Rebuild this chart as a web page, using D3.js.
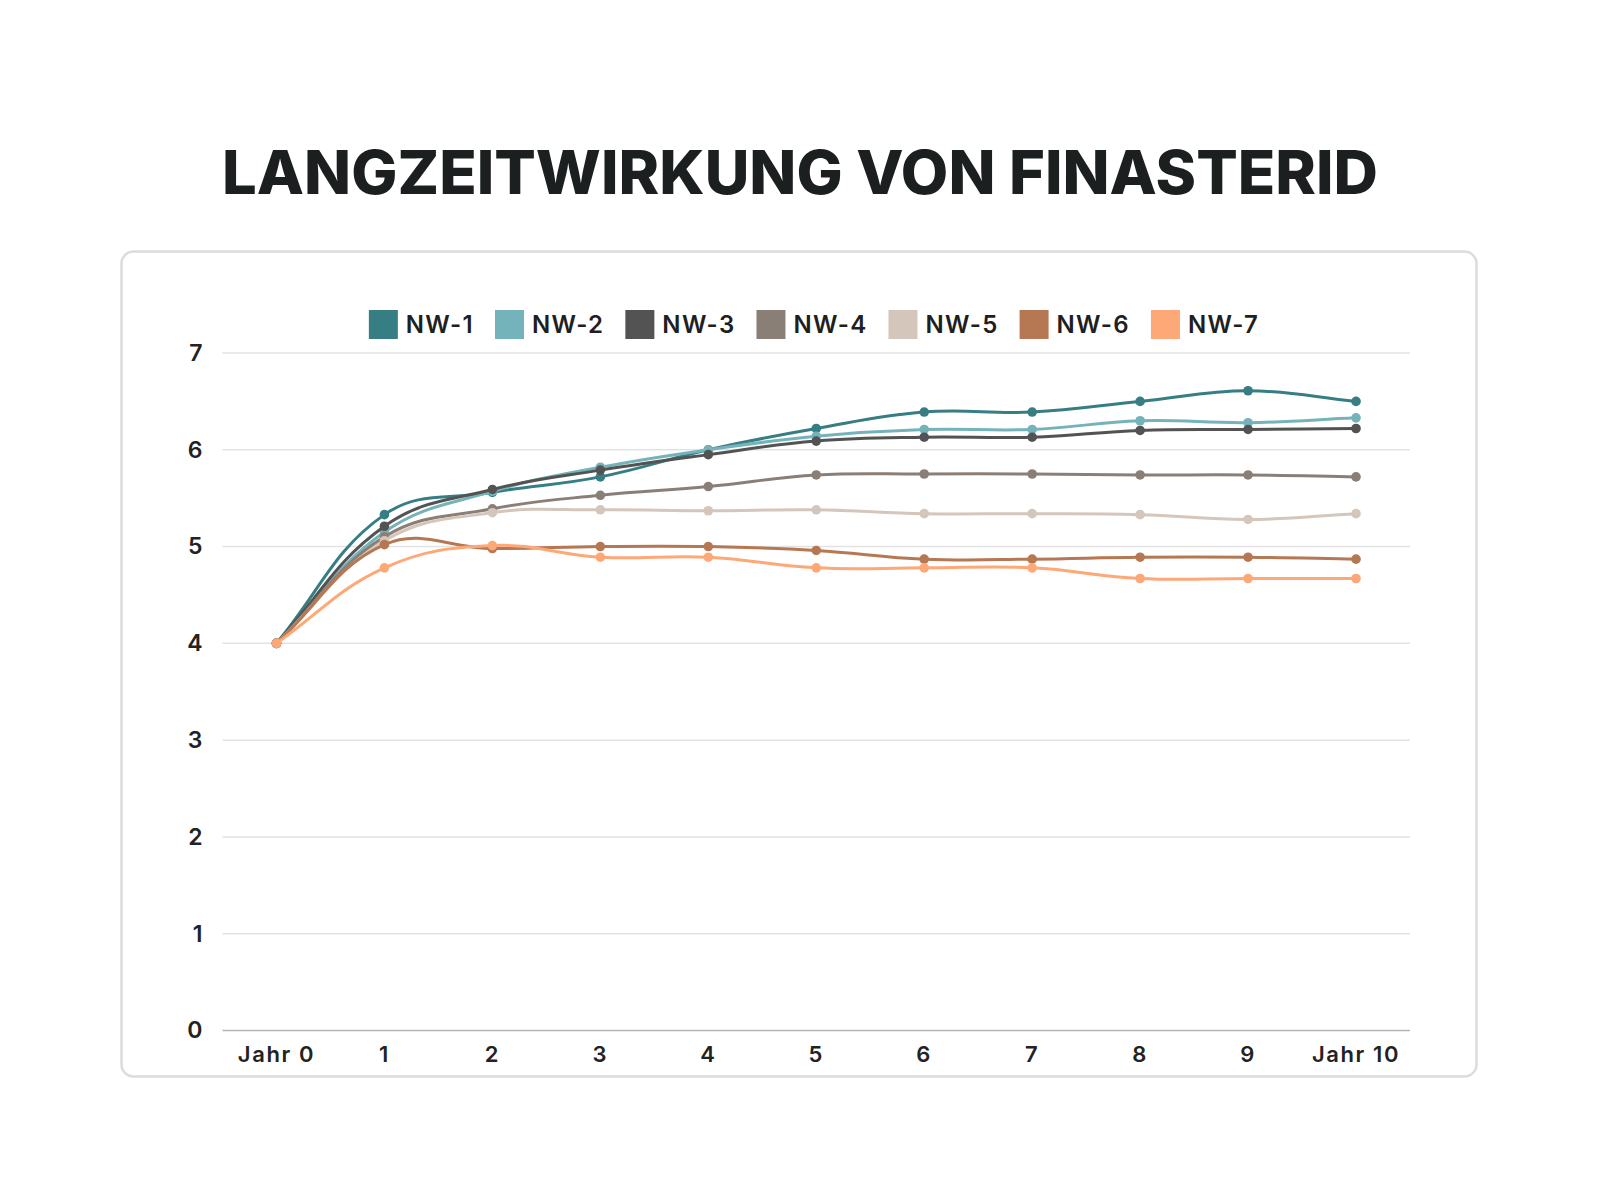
<!DOCTYPE html>
<html>
<head>
<meta charset="utf-8">
<script src="https://cdn.jsdelivr.net/npm/d3@7"></script>
<style>
  html, body { margin: 0; padding: 0; background: #ffffff; }
  svg { display: block; }
  text { font-family: Inter, "Open Sans", "DejaVu Sans", sans-serif; }
</style>
</head>
<body>
<svg id="chart" width="1600" height="1200"></svg>
<script>
// ---------- DATA ----------
const categories = ["Jahr 0", "1", "2", "3", "4", "5", "6", "7", "8", "9", "Jahr 10"];
const seriesNames = ["NW-1", "NW-2", "NW-3", "NW-4", "NW-5", "NW-6", "NW-7"];
const nw1 = [4, 5.33, 5.56, 5.72, 6.00, 6.22, 6.39, 6.39, 6.50, 6.61, 6.50];
const nw2 = [4, 5.15, 5.57, 5.82, 6.00, 6.14, 6.21, 6.21, 6.30, 6.28, 6.33];
const nw3 = [4, 5.21, 5.59, 5.79, 5.95, 6.09, 6.13, 6.13, 6.20, 6.21, 6.22];
const nw4 = [4, 5.10, 5.39, 5.53, 5.62, 5.74, 5.75, 5.75, 5.74, 5.74, 5.72];
const nw5 = [4, 5.06, 5.35, 5.38, 5.37, 5.38, 5.34, 5.34, 5.33, 5.28, 5.34];
const nw6 = [4, 5.02, 4.98, 5.00, 5.00, 4.96, 4.87, 4.87, 4.89, 4.89, 4.87];
const nw7 = [4, 4.78, 5.01, 4.89, 4.89, 4.78, 4.78, 4.78, 4.67, 4.67, 4.67];
const seriesValues = [nw1, nw2, nw3, nw4, nw5, nw6, nw7];
const seriesColors = ["#367e84", "#75b3ba", "#535353", "#8a7f77", "#d4c6ba", "#b67853", "#fea877"];
const yTicks = [0, 1, 2, 3, 4, 5, 6, 7];
const titleText = "LANGZEITWIRKUNG VON FINASTERID";

// ---------- LAYOUT ----------
const svg = d3.select("#chart");
const plot = { left: 222.5, right: 1410, top: 353, bottom: 1030.5 };

// card
svg.append("rect")
  .attr("x", 121.5).attr("y", 251.5)
  .attr("width", 1355).attr("height", 825)
  .attr("rx", 12).attr("ry", 12)
  .attr("fill", "#ffffff")
  .attr("stroke", "#dcdcdc")
  .attr("stroke-width", 2.5);

// title
svg.append("text")
  .attr("x", 800).attr("y", 194)
  .attr("text-anchor", "middle")
  .attr("font-size", 60)
  .attr("font-weight", 800)
  .attr("fill", "#1c1f1f")
  .attr("textLength", 1156)
  .attr("lengthAdjust", "spacingAndGlyphs")
  .text(titleText);

// scales
const x = d3.scaleBand().domain(categories).range([plot.left, plot.right]).padding(0);
const xc = d => x(d) + x.bandwidth() / 2;
const y = d3.scaleLinear().domain([0, 7]).range([plot.bottom, plot.top]);

// gridlines
svg.append("g").selectAll("line")
  .data(yTicks.filter(t => t !== 0))
  .join("line")
  .attr("x1", plot.left).attr("x2", plot.right)
  .attr("y1", d => y(d)).attr("y2", d => y(d))
  .attr("stroke", "#e3e3e3").attr("stroke-width", 1.5);

// x axis baseline
svg.append("line")
  .attr("x1", plot.left).attr("x2", plot.right)
  .attr("y1", y(0)).attr("y2", y(0))
  .attr("stroke", "#b5b5b5").attr("stroke-width", 1.5);

// y axis
const yAxis = svg.append("g")
  .attr("transform", `translate(${plot.left},0)`)
  .call(d3.axisLeft(y).tickValues(yTicks).tickSize(0).tickPadding(20).tickFormat(d3.format("d")));
yAxis.select(".domain").remove();
yAxis.selectAll("text")
  .attr("font-size", 23).attr("font-weight", 600).attr("fill", "#222222")
  .style("font-family", "Inter, 'Open Sans', sans-serif");

// x axis
const xAxis = svg.append("g")
  .attr("transform", `translate(0,${y(0)})`)
  .call(d3.axisBottom(x).tickSize(0).tickPadding(16));
xAxis.select(".domain").remove();
xAxis.selectAll("text")
  .attr("font-size", 22).attr("font-weight", 600).attr("fill", "#222222")
  .attr("letter-spacing", 1.6)
  .style("font-family", "Inter, 'Open Sans', sans-serif");

// Chart.js-like bezier spline curve (tension 0.4)
function SplineCurve(context) { this._context = context; }
SplineCurve.prototype = {
  areaStart() {}, areaEnd() {},
  lineStart() { this._pts = []; },
  point(px, py) { this._pts.push([+px, +py]); },
  lineEnd() {
    const p = this._pts, n = p.length, t = 0.4, ctx = this._context;
    if (!n) return;
    const cps = p.map((c, i) => {
      const prev = p[i - 1] || c, next = p[i + 1] || c;
      const d01 = Math.hypot(c[0] - prev[0], c[1] - prev[1]);
      const d12 = Math.hypot(next[0] - c[0], next[1] - c[1]);
      let s01 = d01 / (d01 + d12), s12 = d12 / (d01 + d12);
      if (isNaN(s01)) s01 = 0;
      if (isNaN(s12)) s12 = 0;
      const fa = t * s01, fb = t * s12;
      return {
        pv: [c[0] - fa * (next[0] - prev[0]), c[1] - fa * (next[1] - prev[1])],
        nx: [c[0] + fb * (next[0] - prev[0]), c[1] + fb * (next[1] - prev[1])]
      };
    });
    ctx.moveTo(p[0][0], p[0][1]);
    for (let i = 1; i < n; i++) {
      ctx.bezierCurveTo(cps[i - 1].nx[0], cps[i - 1].nx[1], cps[i].pv[0], cps[i].pv[1], p[i][0], p[i][1]);
    }
  }
};
const curveSpline = ctx => new SplineCurve(ctx);

const line = d3.line()
  .x((d, i) => xc(categories[i]))
  .y(d => y(d))
  .curve(curveSpline);

const seriesG = svg.append("g");
seriesValues.forEach((vals, si) => {
  const g = seriesG.append("g");
  g.append("path")
    .datum(vals)
    .attr("d", line)
    .attr("fill", "none")
    .attr("stroke", seriesColors[si])
    .attr("stroke-width", 3)
    .attr("stroke-linejoin", "round")
    .attr("stroke-linecap", "round");
  g.selectAll("circle")
    .data(vals)
    .join("circle")
    .attr("cx", (d, i) => xc(categories[i]))
    .attr("cy", d => y(d))
    .attr("r", 4.8)
    .attr("fill", seriesColors[si]);
});

// legend
const legend = svg.append("g");
const items = seriesNames.map((name, i) => {
  const g = legend.append("g");
  g.append("rect").attr("x", 0).attr("y", 0).attr("width", 29).attr("height", 29)
    .attr("fill", seriesColors[i]);
  const t = g.append("text").attr("x", 37).attr("y", 23)
    .attr("font-size", 24).attr("font-weight", 600).attr("fill", "#1f1f1f")
    .attr("letter-spacing", 1.3)
    .text(name);
  return { g, w: 37 + t.node().getComputedTextLength() };
});
const gap = 21;
const total = d3.sum(items, d => d.w) + gap * (items.length - 1);
let cx = 814 - total / 2;
items.forEach(it => {
  it.g.attr("transform", `translate(${cx},310)`);
  cx += it.w + gap;
});
</script>
</body>
</html>
